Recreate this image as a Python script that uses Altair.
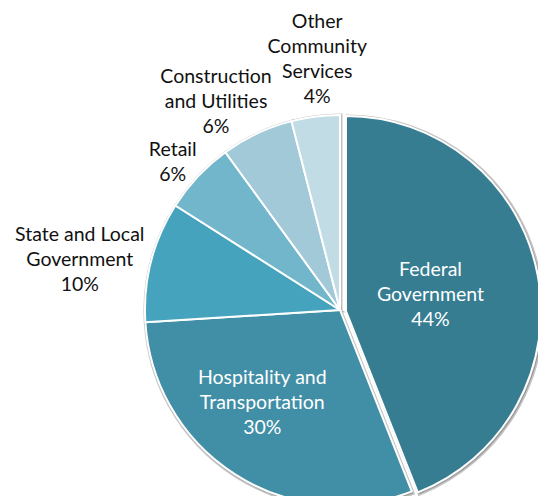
import altair as alt
import pandas as pd

categories = ["Federal Government", "Hospitality and Transportation",
              "State and Local Government", "Retail",
              "Construction and Utilities", "Other Community Services"]
shares = [44, 30, 10, 6, 6, 4]
labels = ["Federal\nGovernment\n44%", "Hospitality and\nTransportation\n30%",
          "State and Local\nGovernment\n10%", "Retail\n6%",
          "Construction\nand Utilities\n6%", "Other\nCommunity\nServices\n4%"]
colors = ["#367d92", "#418fa6", "#46a3be", "#72b6cc", "#a1c9d8", "#c2dce6"]

df = pd.DataFrame({"category": categories, "share": shares, "label": labels})
df["end"] = df["share"].cumsum()
df["start"] = df["end"] - df["share"]
df["mid"] = (df["start"] + df["end"]) / 2
df["nlines"] = df["label"].str.count("\n") + 1

# label placement (layout only): angular nudge (in % units) and radius (px)
nudge = {"Federal Government": 0, "Hospitality and Transportation": 2.1,
         "State and Local Government": -0.97, "Retail": -0.5,
         "Construction and Utilities": -1.56, "Other Community Services": 0.56}
lrad = {"Federal Government": 86, "Hospitality and Transportation": 121,
        "State and Local Government": 265, "Retail": 223,
        "Construction and Utilities": 242, "Other Community Services": 252}
df["lt"] = df["mid"] + df["category"].map(nudge)
df["lr"] = df["category"].map(lrad)
df["tc"] = ["#ffffff", "#ffffff", "#111111", "#111111", "#111111", "#111111"]

CX, CY = 332, 302
EX, EY = 6, 1
R = 195
LH = 25

theta_scale = alt.Scale(domain=[0, 100], range=[0, 6.283185307179586])
color = alt.Color("category:N", scale=alt.Scale(domain=categories, range=colors), legend=None)

base = alt.Chart(df)
fed = alt.datum.category == "Federal Government"
rest = alt.datum.category != "Federal Government"

def arcs(filt, cx, cy, shadow=False):
    if shadow:
        m = base.mark_arc(radius=R + 1, stroke="#9a9a9a", strokeWidth=3,
                          strokeOpacity=0.6, fill="#9a9a9a")
        return m.encode(
            theta=alt.Theta("start:Q", scale=theta_scale),
            theta2="end:Q",
            x=alt.value(cx + 1), y=alt.value(cy + 1),
        ).transform_filter(filt)
    return base.mark_arc(radius=R, stroke="#ffffff", strokeWidth=2).encode(
        theta=alt.Theta("start:Q", scale=theta_scale),
        theta2="end:Q",
        color=color,
        x=alt.value(cx), y=alt.value(cy),
    ).transform_filter(filt)

def texts(filt, cx, cy, n):
    return base.mark_text(font="Lato", fontSize=19.5, lineBreak="\n", lineHeight=LH,
                          align="center", baseline="middle",
                          dy=-(n - 1) * LH / 2).encode(
        theta=alt.Theta("lt:Q", scale=theta_scale),
        radius=alt.Radius("lr:Q", scale=None),
        text="label:N",
        color=alt.Color("tc:N", scale=None),
        x=alt.value(cx), y=alt.value(cy),
    ).transform_filter(filt & (alt.datum.nlines == n))

text_layers = []
for n in sorted(df["nlines"].unique()):
    text_layers.append(texts(rest, CX, CY, int(n)))
    text_layers.append(texts(fed, CX + EX, CY + EY, int(n)))

chart = alt.layer(
    arcs(rest, CX, CY, shadow=True),
    arcs(fed, CX + EX, CY + EY, shadow=True),
    arcs(rest, CX, CY),
    arcs(fed, CX + EX, CY + EY),
    *text_layers,
).properties(width=530, height=488, autosize=alt.AutoSizeParams(type="none"),
             padding=0, background="#ffffff"
).configure_view(stroke=None)

chart.save("out.html", embed_options={"renderer": "svg", "actions": False})
